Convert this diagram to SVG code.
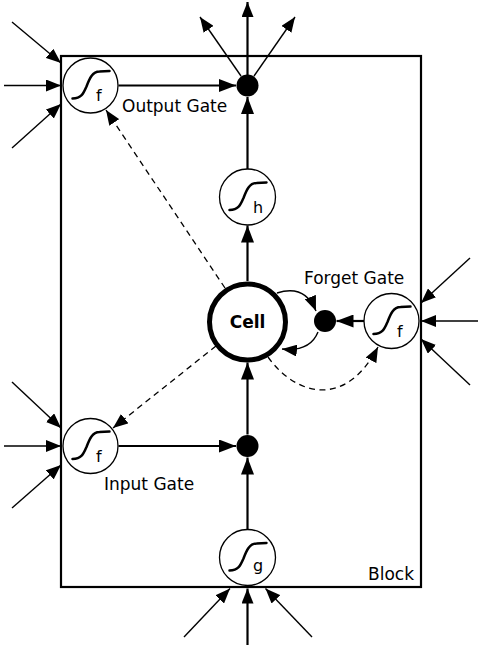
<svg xmlns="http://www.w3.org/2000/svg" xmlns:xlink="http://www.w3.org/1999/xlink" width="482" height="647" viewBox="0 0 482 647">
<style>
  .lbl{font-family:"DejaVu Sans",Verdana,sans-serif;font-size:17px;fill:#000}
  .sub{font-family:"DejaVu Sans",Verdana,sans-serif;font-size:16px;fill:#000}
  .cell{font-family:"DejaVu Sans",Verdana,sans-serif;font-size:17px;font-weight:bold;fill:#000}
  .unit{fill:#fff;stroke:#000;stroke-width:1.3}
  .sig{fill:none;stroke:#000;stroke-width:2.5;stroke-linecap:round}
  .dot{fill:#000}
  .thick{fill:none;stroke:#000;stroke-width:2.2}
  .thin{fill:none;stroke:#000;stroke-width:1.4}
  .dash{fill:none;stroke:#000;stroke-width:1.3;stroke-dasharray:6,4.5}
</style>
<defs>
  <marker id="ah" viewBox="0 0 17 13" refX="17" refY="6.5" markerWidth="17" markerHeight="13" markerUnits="userSpaceOnUse" orient="auto">
    <path d="M0,0 L17,6.5 L0,13 z" fill="#000"/>
  </marker>
  <marker id="ahs" viewBox="0 0 15 12" refX="15" refY="6" markerWidth="15" markerHeight="12" markerUnits="userSpaceOnUse" orient="auto">
    <path d="M0,0 L15,6 L0,12 z" fill="#000"/>
  </marker>
  <path id="sigmoid" class="sig" d="M-18,13 C-9,13 -7,8 -4,1 C-1,-7 2,-14 9,-14 L19,-14.5"/>
</defs>

<g id="block">
  <rect x="61" y="56" width="360" height="531" fill="none" stroke="#000" stroke-width="2.2"/>
  <text class="lbl" x="368" y="580">Block</text>
</g>

<g id="connectors">
  <!-- output gate inputs -->
  <path class="thin" d="M12,22 L61,63" marker-end="url(#ahs)"/>
  <path class="thin" d="M4,85.5 L61,85.5" marker-end="url(#ahs)"/>
  <path class="thin" d="M12,148 L61,104" marker-end="url(#ahs)"/>
  <!-- output gate to output multiplier -->
  <path class="thick" d="M118.5,85.5 L236,85.5" marker-end="url(#ah)"/>
  <!-- outputs -->
  <path class="thick" d="M247.5,85 L247.5,2" marker-end="url(#ahs)"/>
  <path class="thin" d="M241,76 L200,17" marker-end="url(#ahs)"/>
  <path class="thin" d="M254,76 L295,17" marker-end="url(#ahs)"/>
  <!-- h to output multiplier -->
  <path class="thick" d="M247.5,169 L247.5,97" marker-end="url(#ah)"/>
  <!-- cell to h -->
  <path class="thick" d="M247.5,281 L247.5,225.5" marker-end="url(#ah)"/>
  <!-- peepholes -->
  <path class="dash" d="M225,288 L106,110" marker-end="url(#ahs)"/>
  <path class="dash" d="M216,346 L113,428" marker-end="url(#ahs)"/>
  <path class="dash" d="M268,357 C295,395 345,410 378,347" marker-end="url(#ahs)"/>
  <!-- input gate inputs -->
  <path class="thin" d="M12,382 L61,428" marker-end="url(#ahs)"/>
  <path class="thin" d="M4,446 L61,446" marker-end="url(#ahs)"/>
  <path class="thin" d="M12,508 L61,465" marker-end="url(#ahs)"/>
  <!-- input gate to input multiplier -->
  <path class="thick" d="M118.5,446 L236,446" marker-end="url(#ah)"/>
  <!-- g to input multiplier -->
  <path class="thick" d="M247.5,529.5 L247.5,457.5" marker-end="url(#ah)"/>
  <!-- input multiplier to cell -->
  <path class="thick" d="M247.5,434.5 L247.5,362.5" marker-end="url(#ah)"/>
  <!-- g inputs -->
  <path class="thin" d="M184,637 L230,588.5" marker-end="url(#ahs)"/>
  <path class="thick" d="M247.5,645 L247.5,588.5" marker-end="url(#ahs)"/>
  <path class="thin" d="M312,637 L265.5,588.5" marker-end="url(#ahs)"/>
  <!-- forget gate inputs -->
  <path class="thin" d="M470,258 L421,303" marker-end="url(#ahs)"/>
  <path class="thin" d="M478,321 L421,321" marker-end="url(#ahs)"/>
  <path class="thin" d="M470,385 L421,339" marker-end="url(#ahs)"/>
  <!-- forget gate to forget multiplier -->
  <path class="thick" d="M364,321 L336.5,321" marker-end="url(#ah)"/>
  <!-- recurrent loop -->
  <path class="thin" d="M277,293 Q305,284 316,311" marker-end="url(#ahs)"/>
  <path class="thin" d="M318,332 Q310,352 282,349" marker-end="url(#ahs)"/>
</g>

<g id="output_gate">
  <circle class="unit" cx="90.5" cy="85.5" r="27.5"/>
  <use xlink:href="#sigmoid" href="#sigmoid" transform="translate(90.5,85.5)"/>
  <text class="sub" x="96" y="101">f</text>
  <text class="lbl" x="122" y="112">Output Gate</text>
</g>

<g id="output_multiplier">
  <circle class="dot" cx="247.5" cy="85.5" r="11"/>
</g>

<g id="h_unit">
  <circle class="unit" cx="247.5" cy="197" r="28"/>
  <use xlink:href="#sigmoid" href="#sigmoid" transform="translate(247.5,197)"/>
  <text class="sub" x="253" y="213">h</text>
</g>

<g id="cell">
  <circle cx="247.5" cy="322" r="38" fill="#fff" stroke="#000" stroke-width="5"/>
  <text class="cell" x="247.5" y="328" text-anchor="middle">Cell</text>
</g>

<g id="forget_multiplier">
  <circle class="dot" cx="325" cy="321" r="11"/>
</g>

<g id="forget_gate">
  <circle class="unit" cx="391.5" cy="321" r="27.5"/>
  <use xlink:href="#sigmoid" href="#sigmoid" transform="translate(391.5,321)"/>
  <text class="sub" x="397" y="337">f</text>
  <text class="lbl" x="304" y="284">Forget Gate</text>
</g>

<g id="input_gate">
  <circle class="unit" cx="90.5" cy="446" r="27.5"/>
  <use xlink:href="#sigmoid" href="#sigmoid" transform="translate(90.5,446)"/>
  <text class="sub" x="96" y="462">f</text>
  <text class="lbl" x="104" y="490">Input Gate</text>
</g>

<g id="input_multiplier">
  <circle class="dot" cx="247.5" cy="446" r="11"/>
</g>

<g id="g_unit">
  <circle class="unit" cx="247.5" cy="557.5" r="28"/>
  <use xlink:href="#sigmoid" href="#sigmoid" transform="translate(247.5,557.5)"/>
  <text class="sub" x="253" y="571">g</text>
</g>
</svg>
